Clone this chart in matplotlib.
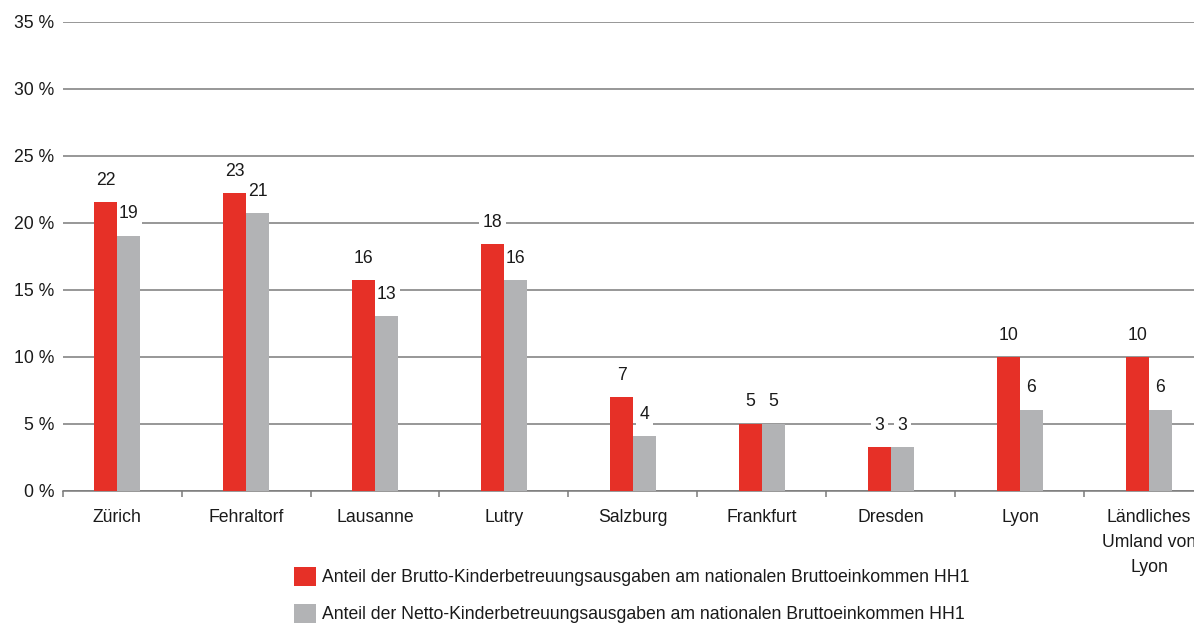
import matplotlib
matplotlib.use("Agg")
import matplotlib.pyplot as plt
import numpy as np
from matplotlib.patches import Patch

plt.rcParams['font.family'] = ['Liberation Sans Narrow', 'Liberation Sans', 'DejaVu Sans']

categories = ["Zürich", "Fehraltorf", "Lausanne", "Lutry", "Salzburg",
              "Frankfurt", "Dresden", "Lyon", "Ländliches\nUmland von\nLyon"]
brutto = [21.55, 22.25, 15.7, 18.4, 7.0, 5.0, 3.22, 10.0, 10.0]
netto = [19.05, 20.7, 13.0, 15.7, 4.05, 5.0, 3.22, 6.05, 6.05]
brutto_labels = ["22", "23", "16", "18", "7", "5", "3", "10", "10"]
netto_labels = ["19", "21", "13", "16", "4", "5", "3", "6", "6"]
yticks = [0, 5, 10, 15, 20, 25, 30, 35]
legend_labels = ["Anteil der Brutto-Kinderbetreuungsausgaben am nationalen Bruttoeinkommen HH1",
                 "Anteil der Netto-Kinderbetreuungsausgaben am nationalen Bruttoeinkommen HH1"]

RED = "#E63027"
GRAY = "#B2B3B5"
LINE = "#7a7a7a"
TXT = "#1a1a1a"
FS = 12.7

W, H = 1194, 631
fig = plt.figure(figsize=(W / 100, H / 100), dpi=100)
ax = fig.add_axes([62.7 / W, 1 - 490.5 / H, 1 - 62.7 / W, (490.5 - 22) / H])

x = np.arange(len(categories))
bw = 0.178
b1 = ax.bar(x - bw / 2, brutto, bw, color=RED, zorder=3)
b2 = ax.bar(x + bw / 2, netto, bw, color=GRAY, zorder=3)

for bars, vals, labs in ((b1, brutto, brutto_labels), (b2, netto, netto_labels)):
    for r, v, t in zip(bars, vals, labs):
        ax.annotate(t, (r.get_x() + r.get_width() / 2, v),
                    xytext=(0, 12.3), textcoords="offset points",
                    ha="center", va="baseline", fontsize=FS, color=TXT, zorder=2.5,
                    bbox=dict(boxstyle="square,pad=0.2", fc="white", ec="none"))

ax.set_ylim(0, 35)
ax.set_xlim(-0.421, 8.349)
ax.set_yticks(yticks)
ax.set_yticklabels([f"{t} %" for t in yticks], fontsize=FS, color=TXT)
ax.tick_params(axis="y", length=0, pad=6)
ax.yaxis.grid(True, color=LINE, linewidth=1.1, zorder=0)
ax.set_axisbelow(True)

ax.set_xticks([-0.421] + list(np.arange(0.5, 8.0, 1.0)))
ax.set_xticklabels([])
ax.tick_params(axis="x", which="major", direction="out", length=4, width=1.1, color=LINE)
ax.set_xticks(x, minor=True)
ax.set_xticklabels(categories, minor=True, fontsize=FS, color=TXT, linespacing=1.65, va="top")
ax.tick_params(axis="x", which="minor", length=0, pad=13)

for s in ("left", "right", "top"):
    ax.spines[s].set_visible(False)
ax.spines["bottom"].set_color(LINE)
ax.spines["bottom"].set_linewidth(1.1)

handles = [Patch(facecolor=RED, edgecolor="none"), Patch(facecolor=GRAY, edgecolor="none")]
fig.legend(handles, legend_labels, loc="upper left",
           bbox_to_anchor=(294 / W, 1 - 567 / H), frameon=False,
           fontsize=FS, handlelength=1.25, handleheight=1.25, handletextpad=0.35,
           labelspacing=1.0, borderpad=0, borderaxespad=0, labelcolor=TXT)

fig.savefig("out.png", dpi=100)
